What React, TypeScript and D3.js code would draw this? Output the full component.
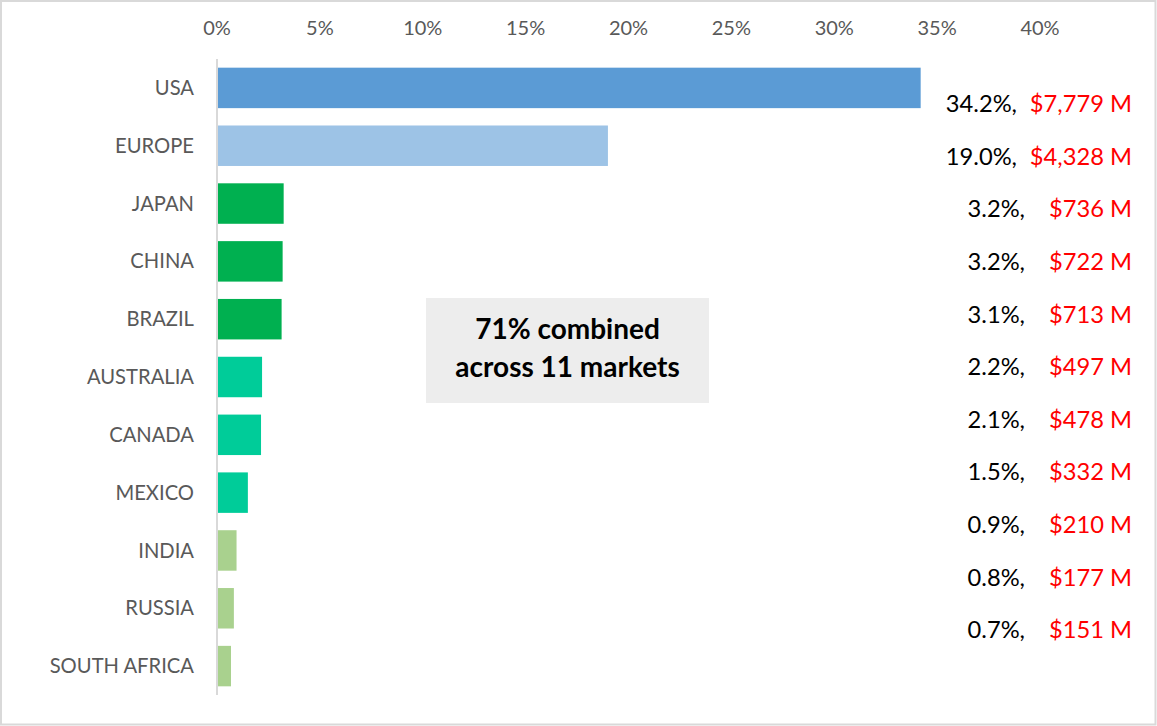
import React from "react";
import * as d3 from "d3";

const categories = ["USA", "EUROPE", "JAPAN", "CHINA", "BRAZIL", "AUSTRALIA", "CANADA", "MEXICO", "INDIA", "RUSSIA", "SOUTH AFRICA"];
const shareValues = [34.2, 19.0, 3.24, 3.19, 3.14, 2.19, 2.14, 1.5, 0.95, 0.82, 0.68];
const shareLabels = ["34.2%,", "19.0%,", "3.2%,", "3.2%,", "3.1%,", "2.2%,", "2.1%,", "1.5%,", "0.9%,", "0.8%,", "0.7%,"];
const revenueLabels = ["$7,779 M", "$4,328 M", "$736 M", "$722 M", "$713 M", "$497 M", "$478 M", "$332 M", "$210 M", "$177 M", "$151 M"];
const barColors = ["#5B9BD5", "#9DC3E6", "#00B050", "#00B050", "#00B050", "#00CC99", "#00CC99", "#00CC99", "#A9D18E", "#A9D18E", "#A9D18E"];
const tickValues = [0, 5, 10, 15, 20, 25, 30, 35, 40];
const noteLines = ["71% combined", "across 11 markets"];

const W = 1157;
const H = 726;
const FONT = "Lato, 'Open Sans', sans-serif";

export default function App() {
  const x = d3.scaleLinear().domain([0, 40]).range([217, 1040]);
  const y = d3.scaleBand<string>().domain(categories).range([59, 695]).paddingInner(0.3).paddingOuter(0.15);
  const labelY = d3.scalePoint<string>().domain(categories).range([104, 630]);

  return (
    <svg width={W} height={H} style={{ position: "absolute", left: 0, top: 0 }} fontFamily={FONT}>
      <rect x={1} y={1} width={W - 2.5} height={H - 2.5} fill="#fff" stroke="#D9D9D9" strokeWidth={2} />
      {tickValues.map((t) => (
        <text key={t} x={x(t)} y={28} dy="0.35em" textAnchor="middle" fontSize={20} fill="#595959">
          {t}%
        </text>
      ))}
      {categories.map((c, i) => (
        <rect key={c} x={x(0) + 1} y={y(c)} width={x(shareValues[i]) - x(0) - 1} height={y.bandwidth()} fill={barColors[i]} />
      ))}
      <line x1={x(0)} x2={x(0)} y1={59} y2={695} stroke="#D9D9D9" strokeWidth={2} />
      {categories.map((c) => (
        <text key={c} x={194} y={(y(c) as number) + y.bandwidth() / 2} dy="0.35em" textAnchor="end" fontSize={20.2} fill="#595959">
          {c}
        </text>
      ))}
      {categories.map((c, i) => (
        <g key={c}>
          <text x={shareValues[i] >= 10 ? 1017 : 1025} y={labelY(c)} dy="0.35em" textAnchor="end" fontSize={23.7} fill="#000">
            {shareLabels[i]}
          </text>
          <text x={1132} y={labelY(c)} dy="0.35em" textAnchor="end" fontSize={23.7} fill="#FF0000">
            {revenueLabels[i]}
          </text>
        </g>
      ))}
      <rect x={426} y={298} width={283} height={105} fill="#EDEDED" />
      {noteLines.map((l, i) => (
        <text key={l} x={567.5} y={329 + i * 38} dy="0.35em" textAnchor="middle" fontSize={28} fontWeight="bold" fill="#000">
          {l}
        </text>
      ))}
    </svg>
  );
}
